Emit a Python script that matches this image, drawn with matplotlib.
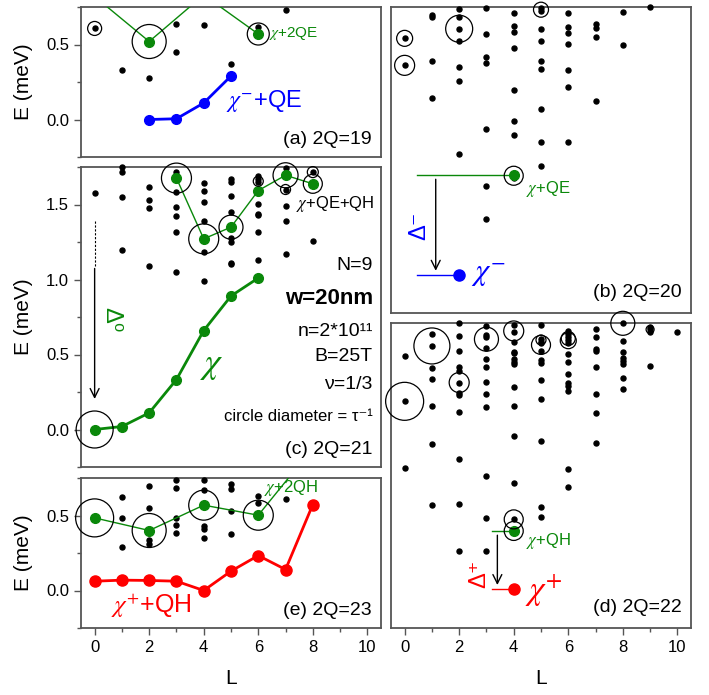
import matplotlib
matplotlib.use("Agg")
import matplotlib.pyplot as plt
from matplotlib.ticker import MultipleLocator, FormatStrFormatter
import numpy as np

plt.rcParams['font.family'] = ['Liberation Sans', 'DejaVu Sans']
plt.rcParams['mathtext.fontset'] = 'stix'

# ---------------- data ----------------
# (a) 2Q=19
a_dot_L = [0, 1, 2, 3, 3, 4, 5, 6, 7]
a_dot_E = [0.607, 0.33, 0.28, 0.64, 0.45, 0.633, 0.367, 0.62, 0.73]
a_circ_L = [0, 2, 6]
a_circ_E = [0.607, 0.52, 0.57]
a_circ_d = [14, 34, 22]
a_grn_L = [0, 2, 4, 6]
a_grn_E = [0.82, 0.52, 0.83, 0.57]
a_blu_L = [2, 3, 4, 5]
a_blu_E = [0.0, 0.005, 0.11, 0.29]

# (c) 2Q=21
c_dot_L = [0, 1, 1, 1, 1, 2, 2, 2, 2, 3, 3, 3, 3, 3, 3,
           4, 4, 4, 4, 4, 4, 5, 5, 5, 5, 5, 5, 5, 5,
           6, 6, 6, 6, 6, 6, 6, 6, 7, 7, 7, 7, 7, 8, 8]
c_dot_E = [1.576, 1.749, 1.716, 1.549, 1.198, 1.616, 1.527, 1.476, 1.087,
           1.72, 1.582, 1.482, 1.422, 1.32, 1.053,
           1.645, 1.593, 1.52, 1.387, 1.182, 0.987,
           1.671, 1.649, 1.56, 1.449, 1.275, 1.249, 1.111, 1.102,
           1.69, 1.67, 1.65, 1.505, 1.438, 1.427, 1.316, 1.133,
           1.742, 1.6, 1.487, 1.393, 1.171, 1.716, 1.26]
c_circ_L = [0, 3, 4, 5, 6, 7, 7, 8, 8]
c_circ_E = [0.0, 1.676, 1.271, 1.349, 1.655, 1.695, 1.6, 1.638, 1.716]
c_circ_d = [37, 30, 30, 24, 10, 25, 10, 19, 11]
c_up_L = [3, 4, 5, 6, 7, 8]
c_up_E = [1.676, 1.271, 1.349, 1.593, 1.695, 1.638]
c_low_L = [0, 1, 2, 3, 4, 5, 6]
c_low_E = [0.0, 0.02, 0.111, 0.333, 0.66, 0.89, 1.01]

# (e) 2Q=23
e_dot_L = [1, 1, 1, 2, 2, 2, 2, 3, 3, 3, 3, 3, 4, 4, 4, 4, 4, 5, 5, 5, 5, 6, 6, 7]
e_dot_E = [0.622, 0.484, 0.289, 0.695, 0.547, 0.34, 0.311, 0.74, 0.684, 0.484, 0.44, 0.384,
           0.74, 0.673, 0.429, 0.413, 0.351, 0.707, 0.68, 0.529, 0.378, 0.629, 0.584, 0.613]
e_circ_L = [0, 2, 4, 6]
e_circ_E = [0.484, 0.40, 0.569, 0.502]
e_circ_d = [38, 34, 30, 30]
e_grn_L = [0, 2, 4, 6, 8]
e_grn_E = [0.484, 0.40, 0.569, 0.502, 0.95]
e_red_L = [0, 1, 2, 3, 4, 5, 6, 7, 8]
e_red_E = [0.062, 0.069, 0.067, 0.062, 0.0, 0.129, 0.233, 0.14, 0.573]

# (b) 2Q=20
b_dot_L = [0, 0, 1, 1, 1, 1, 2, 2, 2, 2, 2, 2, 2, 3, 3, 3, 3, 3, 3, 3,
           4, 4, 4, 4, 4, 4, 4, 4, 5, 5, 5, 5, 5, 5, 5, 5, 5,
           6, 6, 6, 6, 6, 6, 6, 7, 7, 7, 7, 8, 8, 9]
b_dot_E = [1.831, 1.651, 1.989, 1.971, 1.678, 1.433,
           2.024, 1.971, 1.895, 1.815, 1.64, 1.549, 1.058,
           2.033, 1.858, 1.704, 1.664, 1.229, 0.849, 0.625,
           2.002, 1.913, 1.873, 1.769, 1.487, 1.282, 1.187, 0.898,
           2.031, 2.015, 1.895, 1.815, 1.678, 1.624, 1.358, 1.138, 0.98,
           1.998, 1.904, 1.869, 1.791, 1.618, 1.504, 1.138,
           1.927, 1.9, 1.838, 1.411, 2.007, 1.789, 2.038]
b_circ_L = [0, 0, 2, 5, 4]
b_circ_E = [1.831, 1.651, 1.895, 2.022, 0.915]
b_circ_d = [16, 20, 27, 15, 19]
b_grn = (4, 0.92)
b_blu = (2, 0.253)

# (d) 2Q=22
d_dot_L = [0, 0, 0,
           1, 1, 1, 1, 1, 1, 1,
           2, 2, 2, 2, 2, 2, 2, 2, 2, 2, 2, 2,
           3, 3, 3, 3, 3, 3, 3, 3, 3, 3, 3, 3,
           4, 4, 4, 4, 4, 4, 4, 4, 4, 4, 4, 4, 4,
           5, 5, 5, 5, 5, 5, 5, 5, 5, 5, 5, 5,
           6, 6, 6, 6, 6, 6, 6, 6, 6, 6, 6, 6, 6,
           7, 7, 7, 7, 7, 7, 7, 7,
           8, 8, 8, 8, 8, 8, 8, 8,
           9, 9, 9, 9, 10]
d_dot_E = [1.816, 1.511, 1.064,
           1.958, 1.88, 1.731, 1.658, 1.482, 1.224, 0.82,
           2.031, 1.947, 1.844, 1.738, 1.716, 1.636, 1.564, 1.553, 1.44, 1.124, 0.827, 0.516,
           2.013, 1.953, 1.942, 1.864, 1.793, 1.742, 1.64, 1.56, 1.476, 1.016, 0.735, 0.516,
           2.02, 1.976, 1.909, 1.842, 1.831, 1.791, 1.776, 1.758, 1.604, 1.482, 1.282, 0.969, 0.724,
           2.018, 1.924, 1.909, 1.898, 1.847, 1.787, 1.769, 1.651, 1.529, 1.249, 0.809, 0.742,
           1.982, 1.96, 1.942, 1.92, 1.898, 1.827, 1.771, 1.693, 1.631, 1.613, 1.582, 1.06, 0.942,
           1.996, 1.942, 1.858, 1.844, 1.738, 1.562, 1.431, 1.236,
           2.031, 1.916, 1.842, 1.798, 1.782, 1.76, 1.669, 1.593,
           2.009, 1.991, 1.973, 1.747, 1.973]
d_circ_L = [0, 1, 2, 3, 4, 5, 5, 6, 6, 8, 9, 4, 4]
d_circ_E = [1.511, 1.88, 1.636, 1.925, 1.98, 1.92, 1.887, 1.93, 1.915, 2.031, 1.99, 0.724, 0.647]
d_circ_d = [38, 36, 20, 24, 20, 10, 19, 14, 16, 24, 8, 19, 19]
d_grn = (4, 0.647)
d_red = (4, 0.258)

GREEN = '#0a880a'
BLUE = '#0000ff'
RED = '#ff0000'
FRAME = '#555555'

fig = plt.figure(figsize=(7.09, 6.95), dpi=100)


def px_axes(x0, y0, x1, y1):
    return fig.add_axes([x0 / 709, 1 - y1 / 695, (x1 - x0) / 709, (y1 - y0) / 695])


def style(ax, ylim, left=True, bottom=False):
    ax.set_xlim(-0.5, 10.5)
    ax.set_ylim(*ylim)
    for sp in ax.spines.values():
        sp.set_color(FRAME)
        sp.set_linewidth(1.3)
    ax.tick_params(which='both', direction='out', color=FRAME, labelsize=12,
                   top=False, right=False)
    ax.tick_params(which='major', length=5, width=1)
    ax.tick_params(which='minor', length=3, width=1)
    if left:
        ax.yaxis.set_major_locator(MultipleLocator(0.5))
        ax.yaxis.set_minor_locator(MultipleLocator(0.25))
        ax.yaxis.set_major_formatter(FormatStrFormatter('%.1f'))
        ax.set_ylabel('E (meV)', fontsize=15)
        ax.yaxis.set_label_coords(-0.16, 0.5)
    else:
        ax.set_yticks([])
    if bottom:
        ax.xaxis.set_major_locator(MultipleLocator(2))
        ax.xaxis.set_minor_locator(MultipleLocator(1))
        ax.set_xlabel('L', fontsize=15)
    else:
        ax.set_xticks([])


def dots(ax, L, E):
    ax.plot(L, E, 'o', color='k', ms=3.6, ls='none', clip_on=False, zorder=3)


def circles(ax, L, E, d):
    ax.scatter(L, E, s=(np.array(d) * 0.72) ** 2, facecolors='none',
               edgecolors='k', linewidths=0.9, clip_on=False, zorder=5)


# ---------------- (a) ----------------
ax = px_axes(81, 7, 381, 157)
style(ax, (-0.25, 0.75))
dots(ax, a_dot_L, a_dot_E)
ax.plot(a_grn_L, a_grn_E, '-o', color=GREEN, lw=1, ms=7, zorder=4)
circles(ax, a_circ_L, a_circ_E, a_circ_d)
ax.plot(a_blu_L, a_blu_E, '-o', color=BLUE, lw=2, ms=7, zorder=4)
ax.text(6.4, 0.57, r'$\chi$+2QE', color=GREEN, fontsize=11, va='center')
ax.text(4.8, 0.12, r'$\chi^{-}$+QE', color=BLUE, fontsize=17, va='center')
ax.text(0.97, 0.06, '(a) 2Q=19', transform=ax.transAxes, ha='right', va='bottom', fontsize=14)

# ---------------- (c) ----------------
ax = px_axes(81, 167, 381, 467)
style(ax, (-0.25, 1.75))
dots(ax, c_dot_L, c_dot_E)
ax.plot(c_up_L, c_up_E, '-o', color=GREEN, lw=1, ms=7, zorder=4)
ax.plot(c_low_L, c_low_E, '-o', color=GREEN, lw=2, ms=7, zorder=4)
circles(ax, c_circ_L, c_circ_E, c_circ_d)
ax.plot([0, 0], [1.393, 1.089], color='k', lw=0.8, ls=(0, (2, 1.5)))
ax.annotate('', xy=(0, 0.185), xytext=(0, 1.092),
            arrowprops=dict(arrowstyle='->', color='k', lw=1, mutation_scale=16))
ax.text(0.6, 0.73, 'Δ⁰', color=GREEN, fontsize=17, rotation=-90,
        ha='center', va='center')
ax.text(4.3, 0.43, r'$\chi$', color=GREEN, fontsize=26, ha='center', va='center')
ax.text(7.4, 1.5, r'$\chi$+QE+QH', color='k', fontsize=12, va='center')
right = 10.2
ax.text(right, 1.09, 'N=9', ha='right', va='center', fontsize=14)
ax.text(right, 0.87, 'w=20nm', ha='right', va='center', fontsize=16, fontweight='bold')
ax.text(right, 0.65, 'n=2*10¹¹', ha='right', va='center', fontsize=14)
ax.text(right, 0.485, 'B=25T', ha='right', va='center', fontsize=14)
ax.text(right, 0.30, 'ν=1/3', ha='right', va='center', fontsize=14)
ax.text(right, 0.085, 'circle diameter = τ⁻¹', ha='right', va='center', fontsize=12)
ax.text(right, -0.13, '(c) 2Q=21', ha='right', va='center', fontsize=14)

# ---------------- (e) ----------------
ax = px_axes(81, 478, 381, 628)
style(ax, (-0.25, 0.75), bottom=True)
ax.xaxis.set_label_coords(0.5, -0.27)
dots(ax, e_dot_L, e_dot_E)
ax.plot(e_grn_L, e_grn_E, '-o', color=GREEN, lw=1, ms=7, zorder=4)
circles(ax, e_circ_L, e_circ_E, e_circ_d)
ax.plot(e_red_L, e_red_E, '-o', color=RED, lw=2, ms=8, zorder=4)
ax.text(6.2, 0.68, r'$\chi$+2QH', color=GREEN, fontsize=12, va='center')
ax.text(0.6, -0.1, r'$\chi^{+}$+QH', color=RED, fontsize=18, va='center')
ax.text(0.97, 0.06, '(e) 2Q=23', transform=ax.transAxes, ha='right', va='bottom', fontsize=14)

# ---------------- (b) ----------------
ax = px_axes(391, 7, 691, 313)
style(ax, (0, 2.04), left=False)
dots(ax, b_dot_L, b_dot_E)
ax.plot([0.46, b_grn[0]], [b_grn[1], b_grn[1]], color=GREEN, lw=1)
ax.plot([0.46, b_blu[0]], [b_blu[1], b_blu[1]], color=BLUE, lw=1)
ax.plot(*b_grn, 'o', color=GREEN, ms=7, zorder=4)
ax.plot(*b_blu, 'o', color=BLUE, ms=8, zorder=4)
circles(ax, b_circ_L, b_circ_E, b_circ_d)
ax.annotate('', xy=(1.14, b_blu[1] + 0.01), xytext=(1.14, b_grn[1] - 0.01),
            arrowprops=dict(arrowstyle='->', color='k', lw=1, mutation_scale=16))
ax.text(0.55, 0.58, 'Δ⁻', color=BLUE, fontsize=17, rotation=90,
        ha='center', va='center')
ax.text(4.45, 0.83, r'$\chi$+QE', color=GREEN, fontsize=12, va='center')
ax.text(2.45, 0.26, r'$\chi^{-}$', color=BLUE, fontsize=22, va='center')
ax.text(0.97, 0.04, '(b) 2Q=20', transform=ax.transAxes, ha='right', va='bottom', fontsize=14)

# ---------------- (d) ----------------
ax = px_axes(391, 323, 691, 628)
style(ax, (0, 2.033), left=False, bottom=True)
ax.xaxis.set_label_coords(0.5, -0.133)
dots(ax, d_dot_L, d_dot_E)
ax.plot([3.19, d_grn[0]], [d_grn[1], d_grn[1]], color=GREEN, lw=1)
ax.plot([3.2, d_red[0]], [d_red[1], d_red[1]], color=RED, lw=1)
ax.plot(*d_grn, 'o', color=GREEN, ms=7, zorder=4)
ax.plot(*d_red, 'o', color=RED, ms=8, zorder=4)
circles(ax, d_circ_L, d_circ_E, d_circ_d)
ax.annotate('', xy=(3.4, d_red[1] + 0.01), xytext=(3.4, d_grn[1] - 0.01),
            arrowprops=dict(arrowstyle='->', color='k', lw=1, mutation_scale=16))
ax.text(2.75, 0.36, 'Δ⁺', color=RED, fontsize=17, rotation=90,
        ha='center', va='center')
ax.text(4.45, 0.58, r'$\chi$+QH', color=GREEN, fontsize=12, va='center')
ax.text(4.4, 0.25, r'$\chi^{+}$', color=RED, fontsize=24, va='center')
ax.text(0.97, 0.04, '(d) 2Q=22', transform=ax.transAxes, ha='right', va='bottom', fontsize=14)

fig.savefig('out.png', dpi=100)
